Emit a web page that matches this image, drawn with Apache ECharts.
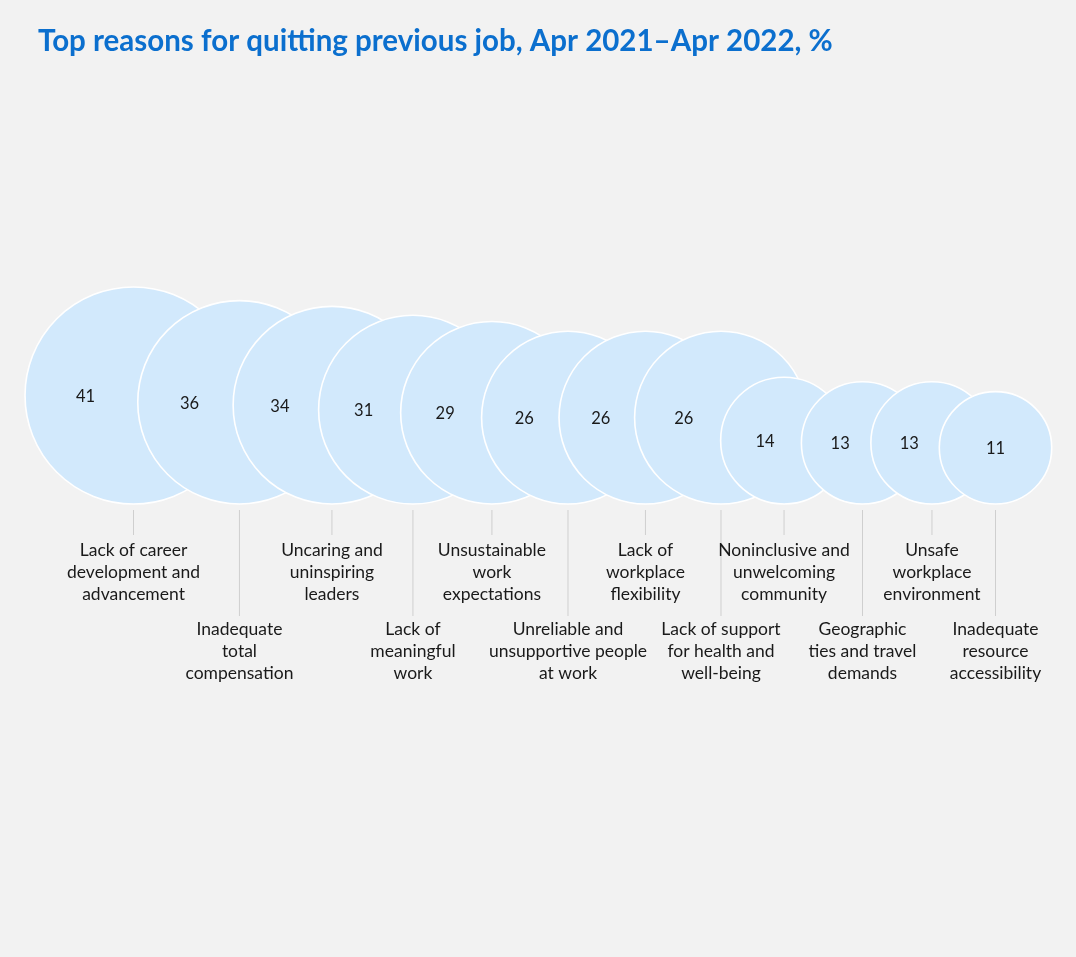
<!DOCTYPE html>
<html><head><meta charset="utf-8">
<script src="https://cdn.jsdelivr.net/npm/echarts@6/dist/echarts.min.js"></script>
<style>html,body{margin:0;padding:0;background:#F2F2F2}#c{width:1076px;height:957px}</style>
</head><body><div id="c"></div>
<script>
const reasons = [
  "Lack of career\ndevelopment and\nadvancement",
  "Inadequate\ntotal\ncompensation",
  "Uncaring and\nuninspiring\nleaders",
  "Lack of\nmeaningful\nwork",
  "Unsustainable\nwork\nexpectations",
  "Unreliable and\nunsupportive people\nat work",
  "Lack of\nworkplace\nflexibility",
  "Lack of support\nfor health and\nwell-being",
  "Noninclusive and\nunwelcoming\ncommunity",
  "Geographic\nties and travel\ndemands",
  "Unsafe\nworkplace\nenvironment",
  "Inadequate\nresource\naccessibility"
];
const shares = [41, 36, 34, 31, 29, 26, 26, 26, 14, 13, 13, 11];
const slots = [7.88, 14.13, 19.59, 24.37, 29.03, 33.52, 38.09, 42.55, 46.27, 50.90, 55.00, 58.75];

const chart = echarts.init(document.getElementById('c'), null, {renderer: 'canvas'});
const data = shares.map((v, i) => [slots[i], Math.sqrt(v), v, i]);

function geom(api, i) {
  const s = Math.sqrt(shares[i]);
  const c = api.coord([slots[i], s]);
  const r = api.size([s, 0])[0];
  return {cx: c[0], cy: c[1], r: r};
}

chart.setOption({
  backgroundColor: '#F2F2F2',
  animation: false,
  title: {
    text: 'Top reasons for quitting previous job, Apr 2021\u2013Apr 2022, %',
    left: 33, top: 19,
    textStyle: {fontFamily: 'Lato', fontWeight: 'bold', fontSize: 29.5, color: '#0B6FCE', lineHeight: 34}
  },
  grid: {left: 0, right: 0, top: 280, bottom: 453},
  xAxis: {type: 'value', min: 0, max: 63.5, show: false},
  yAxis: {type: 'value', min: 0, max: 224 / (1076 / 63.5), show: false},
  series: [{
    type: 'custom',
    data: data,
    renderItem: function (params, api) {
      const i = params.dataIndex;
      const g = geom(api, i);
      const base = api.coord([0, 0])[1];
      let lx = g.cx;
      if (i < shares.length - 1) {
        const n = geom(api, i + 1);
        const dy = n.cy - g.cy;
        const nl = n.cx - Math.sqrt(Math.max(0, n.r * n.r - dy * dy));
        lx = (g.cx - g.r + nl) / 2 + 4;
      }
      const top = i % 2 === 0;
      const tickEnd = top ? base + 31 : base + 112;
      const textY = top ? base + 24 : base + 103;
      return {
        type: 'group',
        children: [
          {type: 'circle', shape: {cx: g.cx, cy: g.cy, r: g.r},
           style: {fill: '#D2E9FC', stroke: '#FFFFFF', lineWidth: 1.6}},
          {type: 'text', style: {text: String(shares[i]), x: lx, y: g.cy + 1, align: 'center', verticalAlign: 'middle',
            fontFamily: 'Lato', fontSize: 16.5, fill: '#1A1A1A'}},
          {type: 'line', shape: {x1: g.cx, y1: base + 6, x2: g.cx, y2: tickEnd},
           style: {stroke: '#CFCFCF', lineWidth: 1}},
          {type: 'text', style: {text: reasons[i], x: g.cx, y: textY + 11, align: 'center', verticalAlign: 'top',
            fontFamily: 'Lato', fontSize: 17.5, lineHeight: 22, fill: '#1A1A1A'}}
        ]
      };
    }
  }]
});
</script></body></html>
